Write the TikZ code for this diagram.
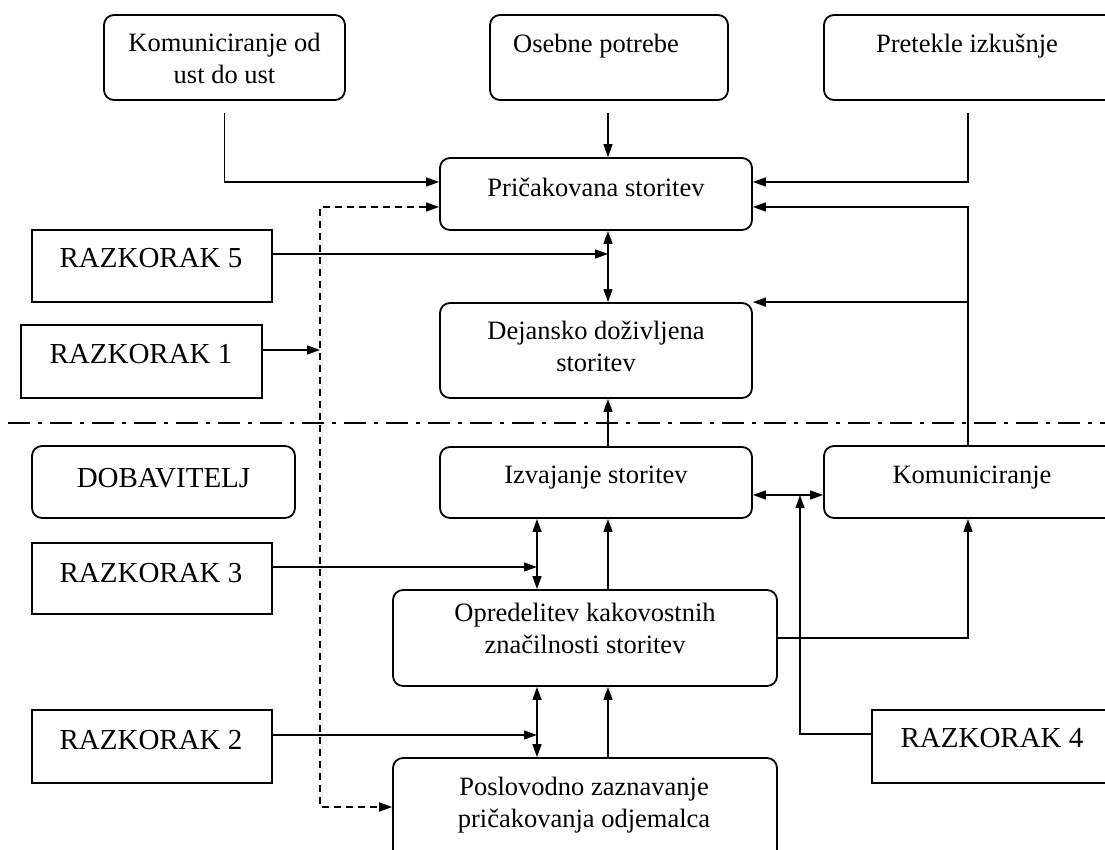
\documentclass[tikz,border=0pt]{standalone}
\usepackage{fontspec}
\setmainfont{Liberation Serif}
\usetikzlibrary{arrows.meta}
\begin{document}
\begin{tikzpicture}[x=1pt,y=-1pt,
  rbox/.style={draw, line width=1.8pt, rounded corners=10pt, inner sep=0pt},
  sbox/.style={draw, line width=1.8pt, inner sep=0pt},
  txt/.style={inner sep=0pt, font=\fontsize{26.5}{32}\selectfont, align=center},
  capt/.style={inner sep=0pt, font=\fontsize{29}{34}\selectfont, anchor=base},
  conn/.style={line width=1.3pt, -{Triangle[length=13pt,width=9pt]}},
  biconn/.style={line width=1.3pt, {Triangle[length=13pt,width=9pt]}-{Triangle[length=13pt,width=9pt]}},
  dconn/.style={line width=1.3pt, dash pattern=on 7pt off 5pt, {Triangle[length=13pt,width=9pt]}-{Triangle[length=13pt,width=9pt]}},
  sepline/.style={line width=2.5pt, dash pattern=on 22pt off 8pt on 4pt off 8pt}
]
\useasboundingbox (0,0) rectangle (1105,850);

% separator
\coordinate (sepL) at (8,423);
\coordinate (sepR) at (1105,423);
\draw[sepline] (sepL) -- (sepR);

% rounded boxes
\node[rbox, minimum width=241pt, minimum height=85pt] (kust) at (224.5,57.5) {};
\node[rbox, minimum width=238pt, minimum height=85pt] (ost) at (609,57.5) {};
\node[rbox, minimum width=291pt, minimum height=85pt] (pret) at (969.5,57.5) {};
\node[rbox, minimum width=312pt, minimum height=72pt] (prica) at (596,194) {};
\node[rbox, minimum width=312pt, minimum height=95pt] (dej) at (596,350.5) {};
\node[rbox, minimum width=312pt, minimum height=71pt] (izv) at (596,482.5) {};
\node[rbox, minimum width=296pt, minimum height=72pt] (kom) at (972,482) {};
\node[rbox, minimum width=263pt, minimum height=72pt] (dob) at (163.5,482) {};
\node[rbox, minimum width=384pt, minimum height=96pt] (opr) at (585,638) {};
\node[rbox, minimum width=384pt, minimum height=112pt] (posl) at (585,814) {};

% square boxes
\node[sbox, minimum width=240pt, minimum height=72pt] (r5) at (152,266) {};
\node[sbox, minimum width=241pt, minimum height=73pt] (r1) at (141.5,361.5) {};
\node[sbox, minimum width=240pt, minimum height=71pt] (r3) at (152,578.5) {};
\node[sbox, minimum width=240pt, minimum height=73pt] (r2) at (152,746.5) {};
\node[sbox, minimum width=240pt, minimum height=73pt] (r4) at (992,746.5) {};

% texts
\node[txt] (kustT) at (224.5,58) {Komuniciranje od\\ust do ust};
\node[txt, anchor=base] (ostT) at (596,53) {Osebne potrebe};
\node[txt, anchor=base] (pretT) at (967,53) {Pretekle izkušnje};
\node[txt, anchor=base] (pricaT) at (596,197) {Pričakovana storitev};
\node[txt] (dejT) at (596,346.5) {Dejansko doživljena\\storitev};
\node[txt, anchor=base] (izvT) at (596,483) {Izvajanje storitev};
\node[txt, anchor=base] (komT) at (972,483) {Komuniciranje};
\node[capt] (dobT) at (163.5,487) {DOBAVITELJ};
\node[txt] (oprT) at (585,628.5) {Opredelitev kakovostnih\\značilnosti storitev};
\node[txt] (poslT) at (584,805.5) {Poslovodno zaznavanje\\pričakovanja odjemalca};
\node[capt] (r5T) at (151,268) {RAZKORAK 5};
\node[capt] (r1T) at (141,363) {RAZKORAK 1};
\node[capt] (r3T) at (151,582) {RAZKORAK 3};
\node[capt] (r2T) at (151,749) {RAZKORAK 2};
\node[capt] (r4T) at (992,747) {RAZKORAK 4};

% helper coordinates
\coordinate (c608) at (608,0);
\coordinate (c537) at (537,0);
\coordinate (c968) at (968,0);
\coordinate (c800) at (800,0);
\coordinate (dv) at (320,807);

% connectors
\draw[conn, shorten <=12pt] (kust.south) |- ([yshift=12pt]prica.west);
\draw[conn, shorten <=12pt] (ost.south -| c608) -- (prica.north -| c608);
\draw[conn, shorten <=12pt] (pret.south -| c968) |- ([yshift=12pt]prica.east);
\draw[conn] (kom.north -| c968) |- ([yshift=-13pt]prica.east);
\draw[conn] (dej.north east -| c968) -- (dej.north east);
\draw[dconn] ([yshift=-13pt]prica.west) -| (dv) -- (dv -| posl.west);
\coordinate (r1e) at ([yshift=11.5pt]r1.east);
\draw[conn] (r1e) -- (r1e -| dv);
\coordinate (r5e) at ([yshift=12pt]r5.east);
\draw[conn] (r5e) -- (r5e -| c608);
\draw[biconn] (prica.south -| c608) -- (dej.north -| c608);
\draw[conn] (izv.north -| c608) -- (dej.south -| c608);
\coordinate (ik) at ([yshift=-12.5pt]izv.east);
\draw[biconn] (ik) -- (ik -| kom.west);
\coordinate (r4w) at ([yshift=12.5pt]r4.west);
\draw[conn] (r4w) -| (ik -| c800);
\draw[conn] (opr.east) -| (kom.south -| c968);
\draw[biconn] (izv.south -| c537) -- (opr.north -| c537);
\coordinate (r3e) at ([yshift=11.5pt]r3.east);
\draw[conn] (r3e) -- (r3e -| c537);
\draw[conn] (opr.north -| c608) -- (izv.south -| c608);
\draw[biconn] (opr.south -| c537) -- (posl.north -| c537);
\coordinate (r2e) at ([yshift=11.5pt]r2.east);
\draw[conn] (r2e) -- (r2e -| c537);
\draw[conn] (posl.north -| c608) -- (opr.south -| c608);
\end{tikzpicture}
\end{document}
